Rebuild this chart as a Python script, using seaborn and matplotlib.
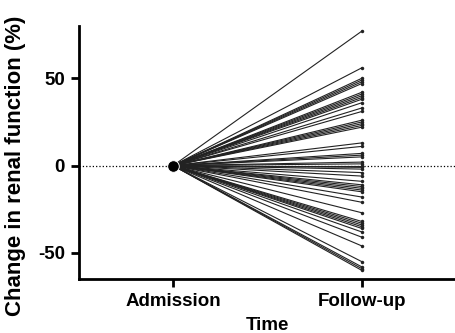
import matplotlib
matplotlib.use("Agg")
import matplotlib.pyplot as plt
import seaborn as sns
import pandas as pd
import numpy as np

# Change in renal function per patient (%), admission is the reference (0)
time_labels = ["Admission", "Follow-up"]
admission = 0.0
follow_up = [77, 56, 50, 49, 48, 47, 42, 41, 40, 39, 38, 36, 33, 31,
             26, 25, 24, 23, 22, 13, 11, 7, 6, 5, 2, 1, 0, -1, -2, -4,
             -6, -9, -11, -12, -13, -14, -15, -18, -21, -27, -32, -33,
             -34, -35, -36, -38, -41, -46, -55, -58, -59, -60]

rows = []
for i, v in enumerate(follow_up):
    rows.append({"patient": i, "Time": time_labels[0], "change": admission})
    rows.append({"patient": i, "Time": time_labels[1], "change": v})
df = pd.DataFrame(rows)
df["x"] = df["Time"].map({t: k for k, t in enumerate(time_labels)})

sns.set_style("ticks")
plt.rcParams["font.family"] = ["Liberation Sans", "DejaVu Sans"]
plt.rcParams["font.weight"] = "bold"
for key in ["text.color", "axes.labelcolor", "xtick.color", "ytick.color",
            "axes.edgecolor"]:
    plt.rcParams[key] = "black"

fig = plt.figure(figsize=(4.56, 3.33), dpi=100)
ax = fig.add_axes([0.173, 0.162, 0.827, 0.760])

ax.axhline(0, color="black", linestyle=":", linewidth=0.9, zorder=1)

sns.lineplot(data=df, x="x", y="change", units="patient", estimator=None,
             color="#222222", linewidth=0.8, marker="o", markersize=2.5,
             markeredgewidth=0, ax=ax, legend=False, zorder=2)

# admission point where all lines start
sns.scatterplot(x=[0], y=[admission], s=70, color="black", ax=ax,
                zorder=3, legend=False)

ax.set_xlim(-0.5, 1.5)
ax.set_ylim(-65, 80)
ax.set_xticks([0, 1])
ax.set_xticklabels(time_labels, fontsize=13.5, fontweight="bold")
ax.set_yticks([-50, 0, 50])
ax.set_yticklabels(["-50", "0", "50"], fontsize=13.5, fontweight="bold")
ax.set_xlabel("Time", fontsize=13.5, fontweight="bold", labelpad=5)
ax.set_ylabel("Change in renal function (%)", fontsize=16,
              fontweight="bold")
ax.yaxis.set_label_coords(-0.14, 0.447)

sns.despine(ax=ax, top=True, right=True)
for side in ["left", "bottom"]:
    ax.spines[side].set_linewidth(2)
ax.tick_params(axis="both", width=2, length=6, direction="out", pad=4)

fig.savefig("out.png", dpi=100)
